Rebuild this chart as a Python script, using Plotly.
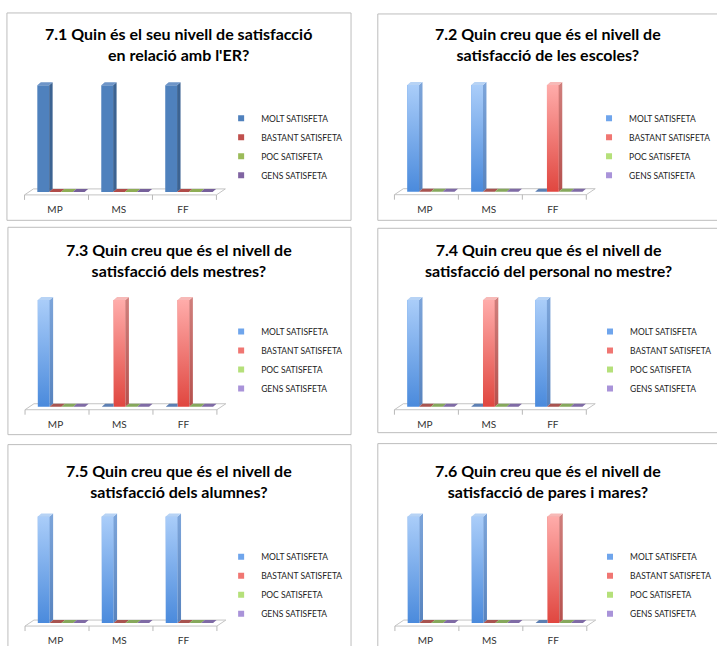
import plotly.graph_objects as go

W, H = 717, 646

# ---------------------------------------------------------------- data
categories = ["MP", "MS", "FF"]
series_names = ["MOLT SATISFETA", "BASTANT SATISFETA", "POC SATISFETA", "GENS SATISFETA"]

titles = [
    "7.1 Quin és el seu nivell de satisfacció<br>en relació amb l'ER?",
    "7.2 Quin creu que és el nivell de<br>satisfacció de les escoles?",
    "7.3 Quin creu que és el nivell de<br>satisfacció dels mestres?",
    "7.4 Quin creu que és el nivell de<br>satisfacció del personal no mestre?",
    "7.5 Quin creu que és el nivell de<br>satisfacció dels alumnes?",
    "7.6 Quin creu que és el nivell de<br>satisfacció de pares i mares?",
]

# one row per question (7.1 ... 7.6), one value per category (MP, MS, FF)
molt = [[1, 1, 1], [1, 1, 0], [1, 0, 0], [1, 0, 1], [1, 1, 1], [1, 1, 0]]
bastant = [[0, 0, 0], [0, 0, 1], [0, 1, 1], [0, 1, 0], [0, 0, 0], [0, 0, 1]]
poc = [[0, 0, 0], [0, 0, 0], [0, 0, 0], [0, 0, 0], [0, 0, 0], [0, 0, 0]]
gens = [[0, 0, 0], [0, 0, 0], [0, 0, 0], [0, 0, 0], [0, 0, 0], [0, 0, 0]]
series_values = [molt, bastant, poc, gens]

# ---------------------------------------------------------------- styles
FONT = "Lato"
FLAT = dict(
    front=["#4F81BD", "#C0504D", "#9BBB59", "#8064A2"],
    top=["#6E95C8", "#C96865", "#A9C66E", "#9079B0"],
    side=["#3C6392", "#933E3B", "#778F45", "#624D7D"],
    sliver=["#5A7DAD", "#B04C49", "#8FAD55", "#76609A"],
    legend=["#4F81BD", "#C0504D", "#9BBB59", "#8064A2"],
    gradient=False,
)
GLOSSY = dict(
    front=["#4A8ADC", "#E0463F", "#8DC04A", "#8A6CC0"],
    top_light=["#AACDF9", "#FFACAA", "#D4F0A0", "#C8B0F0"],
    top=["#B7D3F5", "#F7B9B7", "#D9EEB3", "#CDBDEB"],
    side=["#5783BE", "#B5504D", "#7C9E4C", "#7560A3"],
    side_light=["#7DA5DA", "#D07F7C", "#A6C777", "#9C8AC4"],
    sliver=["#5C7FB3", "#A85450", "#86A85C", "#7F6BA5"],
    legend=["#6FA5EC", "#F07672", "#B5E07A", "#A993D9"],
    gradient=True,
)
styles = [FLAT, GLOSSY, GLOSSY, GLOSSY, GLOSSY, GLOSSY]

# ---------------------------------------------------------------- geometry (px)
PX_PER_CAT = 64.5
PX_PER_VAL = 107.0
BAR_W = 0.185
GROUP_W = 4 * BAR_W
DEPTH_X = 3.5 / PX_PER_CAT
DEPTH_Y = 3.0 / PX_PER_VAL
FLOOR_X = 4.5 / PX_PER_CAT
FLOOR_Y = 3.0 / PX_PER_VAL
TICK_Y = 5.0 / PX_PER_VAL

panels = [
    dict(cx=61.5, base=192.5, title=(180, 44), legend=(263, 114), box=(7, 13, 354, 221)),
    dict(cx=434.5, base=192.3, title=(553, 44), legend=(634, 114), box=(381, 14, 730, 221)),
    dict(cx=62.0, base=408.0, title=(181, 261), legend=(263, 328), box=(8, 228, 354, 436)),
    dict(cx=434.5, base=408.0, title=(553, 260.5), legend=(635, 328), box=(381, 229, 730, 434)),
    dict(cx=62.0, base=625.0, title=(181, 482), legend=(263, 554), box=(8, 446, 354, 660)),
    dict(cx=435.0, base=625.0, title=(553, 482), legend=(635, 554), box=(381, 445, 730, 660)),
]


def px_x(px):
    return px / W


def px_y(py):
    return 1 - py / H


def rgba(hex_color, a):
    h = hex_color.lstrip("#")
    r, g, b = int(h[0:2], 16), int(h[2:4], 16), int(h[4:6], 16)
    return f"rgba({r},{g},{b},{a})"


fig = go.Figure()
layout = dict(shapes=[], annotations=[])

for p, (panel, style) in enumerate(zip(panels, styles)):
    n = p + 1
    xa = "x" if n == 1 else f"x{n}"
    ya = "y" if n == 1 else f"y{n}"
    xkey = "xaxis" if n == 1 else f"xaxis{n}"
    ykey = "yaxis" if n == 1 else f"yaxis{n}"
    legkey = "legend" if n == 1 else f"legend{n}"

    cx, base = panel["cx"], panel["base"]
    x_lo, x_hi = -55.0, 175.0
    y_lo, y_hi = -10.0, 120.0
    layout[xkey] = dict(
        domain=[px_x(cx + x_lo), px_x(cx + x_hi)],
        range=[x_lo / PX_PER_CAT, x_hi / PX_PER_CAT],
        anchor=ya, tickmode="array", tickvals=list(range(len(categories))),
        ticktext=categories, ticks="", showgrid=False, zeroline=False,
        showline=False, ticklabelshift=-6, ticklabelstandoff=0,
        tickfont=dict(family=FONT, size=10, color="#333333"), fixedrange=True,
    )
    layout[ykey] = dict(
        domain=[px_y(base - y_lo), px_y(base - y_hi)],
        range=[y_lo / PX_PER_VAL, y_hi / PX_PER_VAL],
        anchor=xa, visible=False, fixedrange=True,
    )

    # floor of the 3-D chart
    n_cat = len(categories)
    fl, fr = -0.5, n_cat - 0.5
    layout["shapes"].append(dict(
        type="path", xref=xa, yref=ya, layer="below",
        path=(f"M{fl - FLOOR_X},{-FLOOR_Y} L{fr - FLOOR_X},{-FLOOR_Y} "
              f"L{fr + FLOOR_X},{FLOOR_Y} L{fl + FLOOR_X},{FLOOR_Y} Z"),
        fillcolor="#FFFFFF", line=dict(color="#C4C4C4", width=1),
    ))
    for b in range(n_cat + 1):
        bx = fl + b - FLOOR_X
        layout["shapes"].append(dict(
            type="line", xref=xa, yref=ya, layer="below",
            x0=bx, x1=bx, y0=-FLOOR_Y, y1=-FLOOR_Y - TICK_Y,
            line=dict(color="#B8B8B8", width=1),
        ))

    # panel frame
    x0, y0, x1, y1 = panel["box"]
    layout["shapes"].append(dict(
        type="rect", xref="paper", yref="paper",
        x0=px_x(x0), x1=px_x(x1), y0=px_y(y1), y1=px_y(y0),
        line=dict(color="#BDBDBD", width=1), fillcolor="rgba(0,0,0,0)",
    ))

    # title
    tx, ty = panel["title"]
    layout["annotations"].append(dict(
        text=f"<b>{titles[p]}</b>", xref="paper", yref="paper",
        x=px_x(tx), y=px_y(ty), xanchor="center", yanchor="middle",
        showarrow=False, font=dict(family=FONT, size=16, color="#000000"),
    ))

    # legend box
    lx, ly = panel["legend"]
    layout[legkey] = dict(
        x=px_x(lx - 40), y=px_y(ly - 10), xanchor="left", yanchor="top",
        bgcolor="rgba(0,0,0,0)", borderwidth=0, tracegroupgap=0,
        font=dict(family=FONT, size=8.5, color="#222222"), itemclick=False,
    )

    for k, name in enumerate(series_names):
        vals = series_values[k][p]
        offset = -GROUP_W / 2 + k * BAR_W

        # front faces
        fig.add_trace(go.Bar(
            x=list(range(n_cat)), y=vals, width=BAR_W, offset=offset,
            marker=dict(color=style["front"][k], line=dict(width=0)),
            name=name, showlegend=False, xaxis=xa, yaxis=ya, hoverinfo="skip",
        ))

        side_x, side_y, top_x, top_y, sl_x, sl_y, gl_x, gl_y = ([] for _ in range(8))
        for i, v in enumerate(vals):
            xl = i + offset
            xr = xl + BAR_W
            if v > 0:
                side_x += [xr, xr + DEPTH_X, xr + DEPTH_X, xr, None]
                side_y += [0, DEPTH_Y, v + DEPTH_Y, v, None]
                top_x += [xl, xr, xr + DEPTH_X, xl + DEPTH_X, None]
                top_y += [v, v, v + DEPTH_Y, v + DEPTH_Y, None]
                gl_x += [xl, xr, xr, xl, None]
                gl_y += [0, 0, v, v, None]
            else:
                nxt = series_values[k + 1][p][i] if k + 1 < len(series_names) else 0
                right_back = xr if nxt > 0 else xr + DEPTH_X
                sl_x += [xl, xr, right_back, xl + DEPTH_X, None]
                sl_y += [0, 0, DEPTH_Y, DEPTH_Y, None]

        vmax = max(vals) if max(vals) > 0 else 1
        if gl_x and style["gradient"]:
            # glossy front: blend from base colour at the floor to a light tint at the top
            fig.add_trace(go.Scatter(
                x=gl_x, y=gl_y, mode="lines", line=dict(width=0), fill="toself",
                fillgradient=dict(type="vertical", start=0, stop=vmax, colorscale=[
                    [0, rgba(style["top_light"][k], 0)],
                    [1, rgba(style["top_light"][k], 1)]]),
                xaxis=xa, yaxis=ya, showlegend=False, hoverinfo="skip",
            ))
        if side_x:
            side = dict(x=side_x, y=side_y, mode="lines", line=dict(width=0), fill="toself",
                        fillcolor=style["side"][k], xaxis=xa, yaxis=ya,
                        showlegend=False, hoverinfo="skip")
            if style["gradient"]:
                side["fillgradient"] = dict(type="vertical", start=0, stop=vmax + DEPTH_Y, colorscale=[
                    [0, style["side"][k]], [1, style["side_light"][k]]])
            fig.add_trace(go.Scatter(**side))
            fig.add_trace(go.Scatter(
                x=top_x, y=top_y, mode="lines", line=dict(width=0), fill="toself",
                fillcolor=style["top"][k], xaxis=xa, yaxis=ya,
                showlegend=False, hoverinfo="skip",
            ))
        if sl_x:
            fig.add_trace(go.Scatter(
                x=sl_x, y=sl_y, mode="lines", line=dict(width=0), fill="toself",
                fillcolor=style["sliver"][k], xaxis=xa, yaxis=ya,
                showlegend=False, hoverinfo="skip",
            ))

        # legend entry
        fig.add_trace(go.Scatter(
            x=[None], y=[None], mode="markers", name=name,
            marker=dict(symbol="square", size=6, color=style["legend"][k]),
            xaxis=xa, yaxis=ya, legend=legkey, showlegend=True,
        ))

fig.update_layout(
    width=W, height=H, margin=dict(l=0, r=0, t=0, b=0),
    paper_bgcolor="#FFFFFF", plot_bgcolor="rgba(0,0,0,0)",
    barmode="overlay", hovermode=False, **layout,
)

fig.write_html("out.html")
